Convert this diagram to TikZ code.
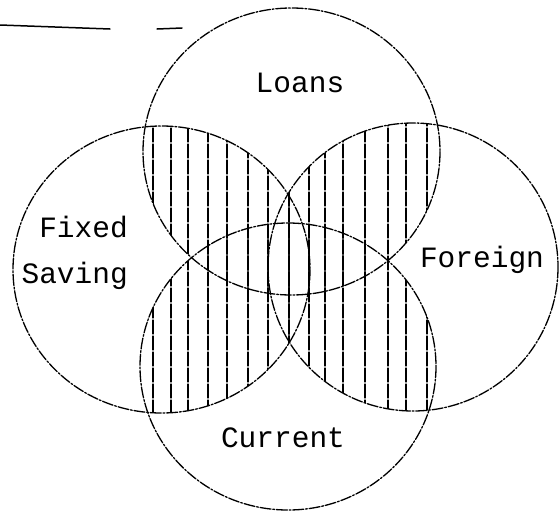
\documentclass[tikz,border=0pt]{standalone}
\usepackage{fontspec}
\newfontfamily\setfont{Liberation Mono}
\usetikzlibrary{positioning}

\tikzset{
  loansset/.style={insert path={(Loans) ellipse [x radius=148.5, y radius=143.5]}},
  fixedset/.style={insert path={(Fixed) ellipse [x radius=148.5, y radius=143.5]}},
  foreignset/.style={insert path={(Foreign) ellipse [x radius=145, y radius=144]}},
  currentset/.style={insert path={(Current) ellipse [x radius=148, y radius=143.5]}}
}

\begin{document}
\begin{tikzpicture}[x=1pt, y=-1pt, line join=round, line cap=round,
    setline/.style={line width=1.3pt, dash pattern=on 11pt off 1.8pt on 1.8pt off 1.8pt},
    hatchline/.style={line width=1.1pt, dash pattern=on 14pt off 2pt},
    setlabel/.style={font=\setfont\fontsize{29.5}{36}\selectfont, inner sep=0pt}]

    \useasboundingbox (0,0) rectangle (559,512);

    % Centres of the four sets
    \coordinate (Loans) at (291.5,151.5);
    \coordinate (Fixed) at (161.5,269.5);
    \coordinate (Foreign) at (413,267);
    \coordinate (Current) at (288,366.5);

    % Rule at the top left
    \coordinate (RuleA) at (0,25);
    \coordinate (RuleB) at (110,29);
    \coordinate (DashA) at (157,29);
    \coordinate (DashB) at (182,28);
    \draw[line width=1.5pt] (RuleA) -- (RuleB);
    \draw[line width=1.5pt] (DashA) -- (DashB);

    % 1. Vertical hatching in every overlap of two sets
    \foreach \A/\B in {loansset/fixedset, loansset/foreignset, loansset/currentset,
                       fixedset/currentset, foreignset/currentset, fixedset/foreignset}{
      \begin{scope}
        \clip[\A];
        \clip[\B];
        \foreach \x in {153,171,188,208,227,248,268,289,309,325,343,365,388,406,427}{
          \draw[hatchline] (\x,0) -- (\x,512);
        }
      \end{scope}
    }

    % 2. The four sets
    \draw[setline, loansset];
    \draw[setline, fixedset];
    \draw[setline, foreignset];
    \draw[setline, currentset];

    % 3. Labels
    \node[setlabel, anchor=base] (loanslabel) at (300,92) {Loans};
    \node[setlabel, anchor=base east] (fixedlabel) at (128,237) {Fixed};
    \node[setlabel, anchor=base east] (savinglabel) at (128,283) {Saving};
    \node[setlabel, anchor=base] (foreignlabel) at (482,267) {Foreign};
    \node[setlabel, anchor=base] (currentlabel) at (283,447) {Current};

\end{tikzpicture}
\end{document}
